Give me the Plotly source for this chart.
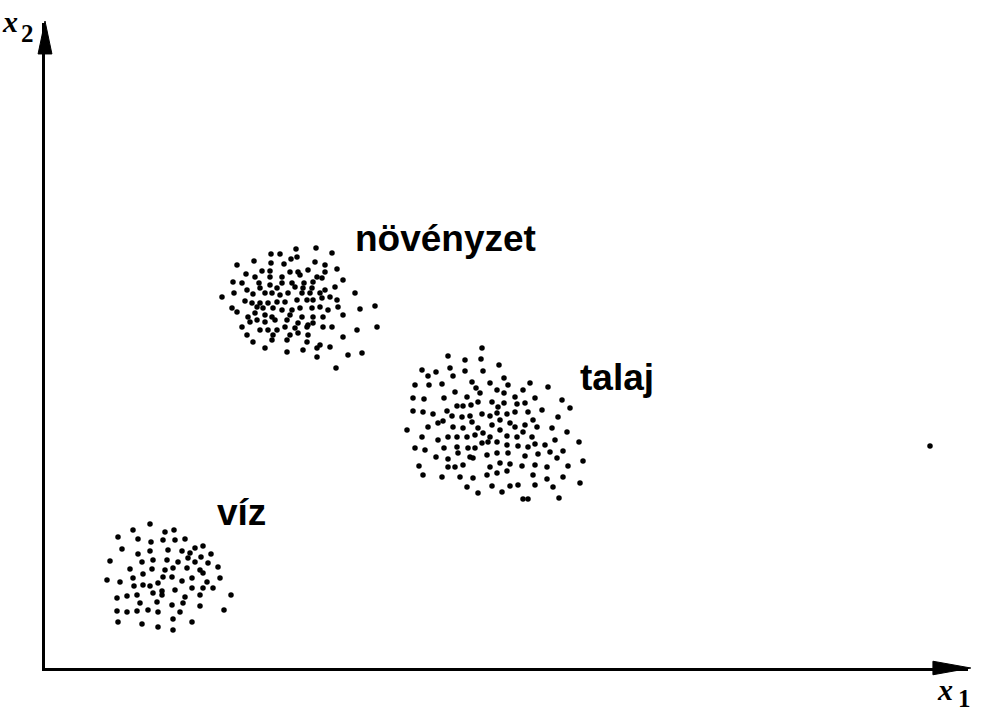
import plotly.graph_objects as go

# Cluster "növényzet" (vegetation)
veg_x = [251, 271, 287, 226, 235, 252, 246, 209, 226, 239, 270, 280, 192,
         217, 225, 245, 253, 263, 280, 292, 201, 210, 225, 237, 255, 272,
         188, 197, 214, 225, 237, 247, 259, 268, 277, 298, 202, 215, 232,
         250, 258, 267, 280, 290, 177, 189, 208, 220, 227, 235, 243, 257,
         265, 275, 285, 310, 200, 207, 215, 223, 232, 240, 252, 262, 268,
         277, 292, 187, 212, 218, 228, 237, 247, 255, 267, 275, 283, 293,
         315, 330, 192, 203, 210, 220, 227, 245, 257, 268, 278, 298, 205,
         212, 220, 230, 242, 253, 263, 268, 278, 287, 197, 215, 223, 232,
         240, 250, 262, 312, 332, 202, 228, 245, 253, 263, 298, 208, 227,
         242, 262, 275, 220, 242, 258, 272, 285, 272, 303, 317, 291]
veg_y = [419, 420, 415, 414, 414, 411, 409, 407, 405, 404, 406, 403, 403,
         397, 397, 396, 396, 398, 396, 399, 394, 391, 391, 391, 393, 391,
         386, 385, 385, 383, 385, 385, 385, 386, 390, 388, 378, 380, 380,
         381, 380, 380, 378, 381, 371, 375, 374, 375, 375, 373, 375, 375,
         375, 375, 371, 375, 367, 365, 365, 365, 366, 366, 368, 368, 368,
         370, 368, 360, 361, 360, 360, 358, 358, 360, 360, 361, 358, 361,
         359, 362, 356, 351, 355, 353, 351, 353, 351, 351, 351, 353, 346,
         348, 346, 348, 348, 345, 343, 345, 341, 341, 341, 338, 338, 338,
         341, 340, 341, 338, 341, 333, 333, 333, 335, 333, 331, 326, 328,
         328, 326, 323, 320, 316, 318, 320, 321, 311, 313, 315, 300]

# Cluster "talaj" (soil)
soil_x = [437, 403, 420, 436, 454, 377, 391, 405, 383, 420, 438, 370, 384,
          397, 408, 427, 445, 459, 463, 485, 503, 368, 379, 399, 410, 422,
          435, 431, 452, 459, 470, 478, 490, 517, 368, 378, 388, 402, 412,
          418, 426, 433, 447, 453, 459, 472, 480, 497, 525, 398, 407, 417,
          425, 437, 445, 452, 462, 470, 483, 513, 362, 383, 393, 408, 418,
          427, 433, 447, 455, 465, 470, 480, 488, 492, 507, 522, 377, 393,
          403, 412, 422, 430, 438, 445, 455, 462, 472, 478, 487, 510, 534,
          370, 380, 399, 412, 423, 430, 437, 443, 452, 462, 473, 483, 490,
          500, 518, 391, 403, 413, 425, 442, 452, 463, 480, 493, 505, 403,
          410, 418, 428, 445, 455, 465, 477, 490, 502, 512, 523, 538, 374,
          378, 397, 415, 428, 442, 452, 462, 488, 502, 518, 422, 433, 447,
          457, 465, 473, 490, 508, 535, 478, 483, 514, 885]
soil_y = [320, 312, 308, 309, 303, 298, 296, 300, 292, 297, 297, 283, 283,
          284, 292, 286, 285, 290, 283, 285, 281, 270, 269, 270, 276, 271,
          275, 280, 278, 275, 271, 278, 270, 268, 257, 256, 254, 257, 262,
          262, 263, 266, 266, 261, 265, 264, 265, 258, 260, 247, 252, 251,
          252, 254, 252, 255, 254, 256, 256, 251, 238, 241, 245, 241, 240,
          246, 240, 243, 248, 245, 241, 243, 248, 241, 240, 236, 231, 228,
          231, 231, 231, 233, 235, 231, 238, 232, 231, 236, 231, 228, 226,
          220, 218, 220, 221, 220, 220, 225, 226, 226, 223, 222, 221, 224,
          223, 217, 211, 209, 215, 211, 213, 215, 215, 212, 214, 216, 201,
          201, 203, 210, 201, 205, 204, 202, 203, 201, 210, 202, 207, 202,
          193, 191, 191, 190, 193, 195, 197, 193, 189, 191, 181, 175, 182,
          176, 182, 183, 183, 181, 185, 169, 169, 170, 222]

# Cluster "víz" (water)
water_x = [105, 120, 129, 88, 73, 93, 106, 118, 130, 140, 77, 93, 105, 123,
           137, 145, 150, 158, 65, 97, 108, 122, 133, 143, 150, 156, 166,
           163, 85, 98, 107, 120, 128, 142, 155, 173, 62, 75, 88, 89, 98,
           105, 113, 118, 127, 137, 147, 158, 162, 175, 72, 82, 92, 108, 117,
           117, 130, 147, 158, 168, 95, 112, 127, 138, 140, 155, 186, 72, 82,
           92, 103, 113, 135, 155, 179, 73, 97, 113, 128, 128, 147]
water_y = [144, 136, 138, 138, 131, 129, 126, 128, 128, 129, 119, 114, 117,
           118, 117, 115, 120, 122, 107, 106, 108, 108, 106, 110, 106, 111,
           114, 105, 99, 94, 99, 98, 100, 100, 98, 101, 88, 86, 90, 82, 83,
           82, 85, 91, 91, 87, 90, 95, 86, 90, 70, 72, 73, 75, 73, 77, 78, 80,
           80, 80, 65, 66, 63, 65, 71, 73, 73, 57, 56, 57, 58, 56, 56, 62, 58,
           46, 44, 41, 38, 49, 46]

labels = ["növényzet", "talaj", "víz"]
label_x = [400, 572, 196]
label_y = [430, 291, 156]

fig = go.Figure()
for xs, ys in [(veg_x, veg_y), (soil_x, soil_y), (water_x, water_y)]:
    fig.add_trace(go.Scatter(
        x=xs, y=ys, mode="markers",
        marker=dict(color="black", size=5.5, line=dict(width=0)),
        showlegend=False, hoverinfo="skip"))

annotations = []
for t, lx, ly in zip(labels, label_x, label_y):
    annotations.append(dict(
        x=lx, y=ly, xref="x", yref="y", text=t, showarrow=False,
        xanchor="center", yanchor="middle",
        font=dict(family="Liberation Sans, Arial, sans-serif", size=37,
                  color="black", weight="bold")))

serif = "Liberation Serif, Times New Roman, serif"
# axis names: italic x with an upright index set lower
annotations += [
    dict(x=-0.0374, y=1.0016, xref="paper", yref="paper",
         text="<b><i>x</i></b>", showarrow=False,
         xanchor="center", yanchor="middle",
         font=dict(family=serif, size=30, color="black")),
    dict(x=-0.0190, y=0.9837, xref="paper", yref="paper",
         text="<b>2</b>", showarrow=False,
         xanchor="center", yanchor="middle",
         font=dict(family=serif, size=25, color="black")),
    dict(x=0.9756, y=-0.0326, xref="paper", yref="paper",
         text="<b><i>x</i></b>", showarrow=False,
         xanchor="center", yanchor="middle",
         font=dict(family=serif, size=30, color="black")),
    dict(x=0.9960, y=-0.0473, xref="paper", yref="paper",
         text="<b>1</b>", showarrow=False,
         xanchor="center", yanchor="middle",
         font=dict(family=serif, size=25, color="black")),
]

# arrowheads at the ends of the axes (paper coordinates)
shapes = [
    dict(type="path", xref="paper", yref="paper",
         path="M 1.003 0 L 0.962 0.0105 L 0.962 -0.0105 Z",
         fillcolor="black", line=dict(color="black", width=1)),
    dict(type="path", xref="paper", yref="paper",
         path="M 0 1.003 L 0.0075 0.952 L -0.0075 0.952 Z",
         fillcolor="black", line=dict(color="black", width=1)),
]

axis_common = dict(showgrid=False, zeroline=False, showticklabels=False,
                   ticks="", showline=True, linecolor="black", linewidth=3,
                   fixedrange=True)
fig.update_layout(
    width=999, height=717,
    margin=dict(l=45, r=31, t=23, b=49),
    paper_bgcolor="white", plot_bgcolor="white",
    xaxis=dict(range=[0, 923], **axis_common),
    yaxis=dict(range=[0, 645], **axis_common),
    annotations=annotations,
    shapes=shapes,
)

# remove the browser's default page margin so the figure fills the window
fig.write_html("out.html",
               config={"displayModeBar": False},
               post_script="document.body.style.margin='0';"
                           "document.body.style.overflow='hidden';")
